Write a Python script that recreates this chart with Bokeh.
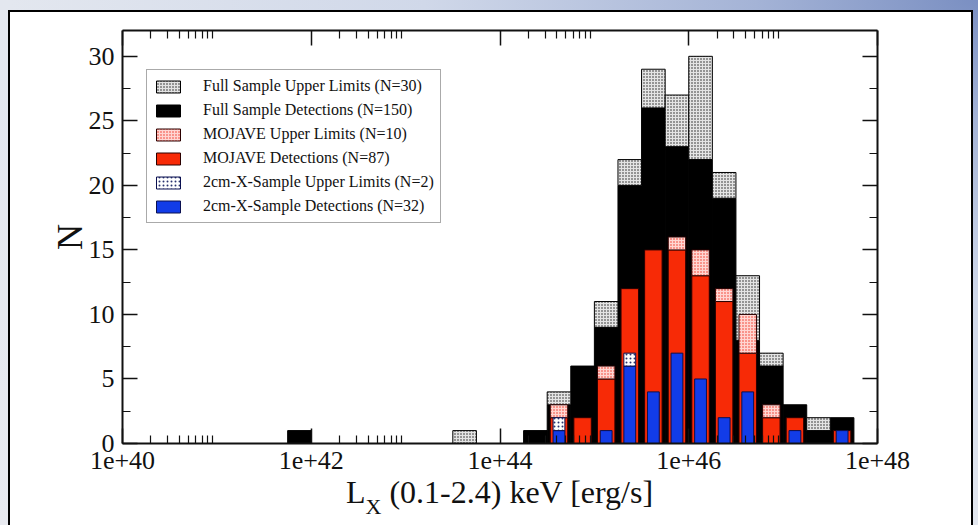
from bokeh.plotting import figure
from bokeh.models import FixedTicker, LinearAxis, Legend, LegendItem, ColumnDataSource, Div
from bokeh.layouts import column
from bokeh.embed import file_html
from bokeh.resources import INLINE
import math

# Histogram of log10 L_X (0.1-2.4 keV); each bin is 0.25 dex wide, given by its lower edge
bin_lo = [41.75, 43.5, 44.25, 44.5, 44.75, 45.0, 45.25, 45.5, 45.75,
          46.0, 46.25, 46.5, 46.75, 47.0, 47.25, 47.5]
bin_width = 0.25

full_det = [1, 0, 1, 3, 6, 9, 20, 26, 23, 22, 19, 8, 6, 3, 1, 2]
full_ul = [0, 1, 0, 1, 0, 2, 2, 3, 4, 8, 2, 5, 1, 0, 1, 0]
mojave_det = [0, 0, 0, 2, 2, 5, 12, 15, 15, 13, 11, 7, 2, 2, 0, 1]
mojave_ul = [0, 0, 0, 1, 0, 1, 0, 0, 1, 2, 1, 3, 1, 0, 0, 0]
cm2_det = [0, 0, 0, 1, 0, 1, 6, 4, 7, 5, 2, 4, 0, 1, 0, 1]
cm2_ul = [0, 0, 0, 1, 0, 0, 1, 0, 0, 0, 0, 0, 0, 0, 0, 0]

labels = [
    "Full Sample Upper Limits (N=30)",
    "Full Sample Detections (N=150)",
    "MOJAVE Upper Limits (N=10)",
    "MOJAVE Detections (N=87)",
    "2cm-X-Sample Upper Limits (N=2)",
    "2cm-X-Sample Detections (N=32)",
]

x_major = [40, 42, 44, 46, 48]
x_major_labels = ["1e+40", "1e+42", "1e+44", "1e+46", "1e+48"]
y_major = [0, 5, 10, 15, 20, 25, 30]

X_RANGE = (40, 48)
Y_RANGE = (0, 32)

SERIF = "Liberation Serif"

p = figure(width=978, height=525, x_range=X_RANGE, y_range=Y_RANGE,
           output_backend="svg", toolbar_location=None,
           min_border_left=122, min_border_right=101,
           min_border_top=30, min_border_bottom=82)
p.border_fill_color = None
p.background_fill_color = "white"
p.outline_line_color = None
p.grid.visible = False
p.styles = {
    "background": (
        "linear-gradient(#ffffff,#ffffff) 10px 12px / 961px 520px no-repeat, "
        "linear-gradient(#000000,#000000) 8px 10px / 965px 522px no-repeat, "
        "radial-gradient(ellipse at 100% 0%, #7a8fc2 0%, #a4b3d6 16%, "
        "#d0d8e9 40%, #e3e7ef 70%, #e8eaf0 100%)"
    )
}


def bars(lo, bottom, height, frac):
    lo_kept, b, t = [], [], []
    for x0, b0, h in zip(lo, bottom, height):
        if h > 0:
            lo_kept.append(x0)
            b.append(b0)
            t.append(b0 + h)
    xc = [x0 + bin_width / 2 for x0 in lo_kept]
    return ColumnDataSource(dict(x=xc, bottom=b, top=t)), bin_width * frac


zeros = [0] * len(bin_lo)

src, w = bars(bin_lo, zeros, full_det, 1.0)
r_full_det = p.vbar(x="x", bottom="bottom", top="top", width=w, source=src,
                    fill_color="black", line_color="black", line_width=1)
src, w = bars(bin_lo, full_det, full_ul, 1.0)
r_full_ul = p.vbar(x="x", bottom="bottom", top="top", width=w, source=src,
                   fill_color="#e4e4e4", hatch_pattern="dot", hatch_color="#1a1a1a",
                   hatch_scale=3, hatch_weight=1.3,
                   line_color="black", line_width=1)

src, w = bars(bin_lo, zeros, mojave_det, 0.74)
r_moj_det = p.vbar(x="x", bottom="bottom", top="top", width=w, source=src,
                   fill_color="#f72a06", line_color="#2a0000", line_width=1)
src, w = bars(bin_lo, mojave_det, mojave_ul, 0.74)
r_moj_ul = p.vbar(x="x", bottom="bottom", top="top", width=w, source=src,
                  fill_color="#ffd6d2", hatch_pattern="dot", hatch_color="#f03020",
                  hatch_scale=3, hatch_weight=1.3,
                  line_color="#2a0000", line_width=1)

src, w = bars(bin_lo, zeros, cm2_det, 0.5)
r_cm_det = p.vbar(x="x", bottom="bottom", top="top", width=w, source=src,
                  fill_color="#123ce8", line_color="#0a1050", line_width=1)
src, w = bars(bin_lo, cm2_det, cm2_ul, 0.5)
r_cm_ul = p.vbar(x="x", bottom="bottom", top="top", width=w, source=src,
                 fill_color="white", hatch_pattern="dot", hatch_color="#2a3470",
                 hatch_scale=4, hatch_weight=1.8,
                 line_color="#0a1050", line_width=1)

# Axes: ticks point inwards on all four sides
x_minor = [d + math.log10(k) for d in (40, 42, 44, 46) for k in range(2, 10)]
y_minor = [v + 2.5 for v in y_major[:-1]]
x_ticker = FixedTicker(ticks=x_major, minor_ticks=x_minor)
y_ticker = FixedTicker(ticks=y_major, minor_ticks=y_minor)


def style_axis(ax, show_labels):
    ax.axis_line_width = 2
    ax.axis_line_color = "#111111"
    ax.major_tick_in = 15
    ax.major_tick_out = 0
    ax.minor_tick_in = 8
    ax.minor_tick_out = 0
    ax.major_tick_line_width = 1.5
    ax.minor_tick_line_width = 1.2
    ax.major_tick_line_color = "#111111"
    ax.minor_tick_line_color = "#111111"
    if show_labels:
        ax.major_label_text_font = SERIF
        ax.major_label_text_font_size = "26px"
        ax.major_label_text_color = "#111111"
    else:
        ax.major_label_text_font_size = "10px"
        ax.major_label_text_color = None
        ax.major_label_standoff = 0


xax = p.xaxis[0]
xax.ticker = x_ticker
xax.major_label_overrides = dict(zip(x_major, x_major_labels))
xax.major_label_standoff = 8
style_axis(xax, True)

yax = p.yaxis[0]
yax.ticker = y_ticker
yax.major_label_standoff = 8
yax.axis_label = "N"
yax.axis_label_text_font = SERIF
yax.axis_label_text_font_size = "36px"
yax.axis_label_text_font_style = "normal"
yax.axis_label_text_color = "#111111"
yax.axis_label_standoff = -4
style_axis(yax, True)

top_ax = LinearAxis(ticker=x_ticker)
style_axis(top_ax, False)
p.add_layout(top_ax, "above")

right_ax = LinearAxis(ticker=y_ticker)
style_axis(right_ax, False)
p.add_layout(right_ax, "right")

legend = Legend(
    items=[LegendItem(label=t, renderers=[r]) for t, r in zip(
        labels, [r_full_ul, r_full_det, r_moj_ul, r_moj_det, r_cm_ul, r_cm_det])],
    location=(24, 220),
    margin=0,
    padding=6,
    spacing=4,
    glyph_width=30,
    glyph_height=15,
    label_height=20,
    label_standoff=20,
    label_text_font=SERIF,
    label_text_font_size="16px",
    label_text_color="#111111",
    border_line_color="#555555",
    border_line_width=1.5,
    background_fill_color="white",
    background_fill_alpha=1,
)
p.add_layout(legend)

# x-axis title with a subscript X, laid over the bottom margin of the plot
x_title = Div(
    text=(
        "<div style=\"font-family:'Liberation Serif';font-size:32px;"
        "line-height:32px;color:#111111;white-space:nowrap;margin:0;padding:0\">"
        "L<span style=\"font-size:22px;position:relative;top:11px\">X</span>"
        " (0.1-2.4) keV [erg/s]</div>"
    ),
    width=420, height=42, margin=(-49, 0, 0, 346),
)

layout = column(p, x_title, width=978, height=525)

open("out.html", "w").write(file_html(layout, INLINE))
